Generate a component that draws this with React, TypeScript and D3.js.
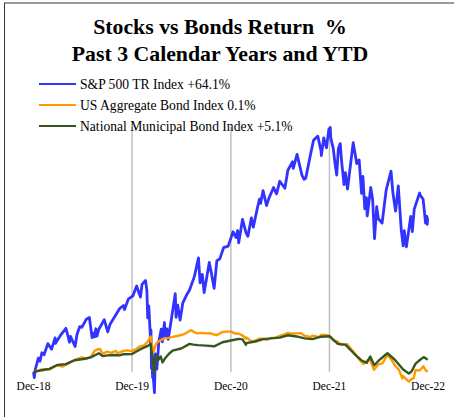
import React from "react";
import * as d3 from "d3";

const titleLines = ["Stocks vs Bonds Return  %", "Past 3 Calendar Years and YTD"];
const seriesNames = ["S&P 500 TR Index +64.1%", "US Aggregate Bond Index 0.1%", "National Municipal Bond Index +5.1%"];
const seriesColors = ["#3333ff", "#ff9900", "#375623"];
const tickDates = ["2018-12-31", "2019-12-31", "2020-12-31", "2021-12-31", "2022-12-31"];
const gridDates = ["2019-12-31", "2020-12-31", "2021-12-31"];

const spx: [string, number][] = [
  ["2018-12-31", 0], ["2019-01-03", -2.3], ["2019-01-07", 1.2], ["2019-01-18", 5.8], ["2019-01-24", 4.5],
  ["2019-01-31", 8.0], ["2019-02-08", 7.2], ["2019-02-22", 11.8], ["2019-03-08", 9.5], ["2019-03-21", 14.2],
  ["2019-03-22", 11.9], ["2019-04-12", 15.6], ["2019-04-30", 18.2], ["2019-05-07", 15.3], ["2019-05-13", 12.4],
  ["2019-05-17", 14.8], ["2019-06-03", 10.6], ["2019-06-10", 15.6], ["2019-06-20", 18.9], ["2019-06-28", 18.6],
  ["2019-07-15", 22.0], ["2019-07-26", 22.7], ["2019-08-05", 14.3], ["2019-08-09", 16.2], ["2019-08-14", 14.6],
  ["2019-08-19", 18.0], ["2019-08-23", 14.9], ["2019-08-30", 17.8], ["2019-09-19", 21.8], ["2019-10-02", 16.7],
  ["2019-10-11", 20.0], ["2019-10-31", 23.6], ["2019-11-15", 26.4], ["2019-11-29", 27.7], ["2019-12-03", 26.0],
  ["2019-12-17", 30.3], ["2019-12-31", 31.5], ["2020-01-03", 31.6], ["2020-01-17", 35.8], ["2020-01-27", 32.5],
  ["2020-01-31", 31.2], ["2020-02-06", 36.5], ["2020-02-19", 38.1], ["2020-02-24", 33.8], ["2020-02-27", 22.5],
  ["2020-03-02", 27.5], ["2020-03-09", 12.0], ["2020-03-10", 17.5], ["2020-03-12", 1.5], ["2020-03-13", 11.0],
  ["2020-03-16", -2.3], ["2020-03-17", 3.8], ["2020-03-18", -1.5], ["2020-03-20", -4.2], ["2020-03-23", -8.6],
  ["2020-03-26", 7.5], ["2020-03-27", 4.0], ["2020-04-01", 1.2], ["2020-04-08", 12.5], ["2020-04-17", 17.8],
  ["2020-04-21", 12.6], ["2020-04-29", 20.6], ["2020-05-01", 14.4], ["2020-05-08", 18.0], ["2020-05-13", 13.6],
  ["2020-05-26", 23.0], ["2020-06-08", 32.6], ["2020-06-11", 22.8], ["2020-06-17", 27.8], ["2020-06-26", 21.6],
  ["2020-07-06", 28.8], ["2020-07-22", 32.5], ["2020-07-31", 34.1], ["2020-08-18", 39.8], ["2020-09-02", 47.5],
  ["2020-09-08", 37.1], ["2020-09-16", 40.6], ["2020-09-23", 33.1], ["2020-10-12", 45.6], ["2020-10-19", 41.6],
  ["2020-10-30", 34.8], ["2020-11-09", 46.3], ["2020-11-20", 47.1], ["2020-12-04", 51.8], ["2020-12-21", 52.4],
  ["2020-12-31", 55.7], ["2021-01-08", 58.4], ["2021-01-19", 56.0], ["2021-01-25", 58.9], ["2021-01-29", 53.8],
  ["2021-02-12", 63.5], ["2021-02-25", 58.0], ["2021-03-04", 56.5], ["2021-03-17", 64.2], ["2021-03-24", 60.3],
  ["2021-04-09", 68.7], ["2021-04-16", 72.0], ["2021-04-20", 70.2], ["2021-04-29", 75.5], ["2021-05-12", 69.3],
  ["2021-05-21", 72.4], ["2021-06-07", 76.8], ["2021-06-18", 74.2], ["2021-06-30", 79.4], ["2021-07-19", 76.5],
  ["2021-07-30", 84.0], ["2021-08-16", 87.5], ["2021-08-19", 84.8], ["2021-09-02", 90.6], ["2021-09-20", 82.0],
  ["2021-09-28", 80.2], ["2021-10-04", 80.6], ["2021-10-21", 90.0], ["2021-11-02", 96.5], ["2021-11-18", 98.2],
  ["2021-11-30", 91.9], ["2021-12-01", 90.1], ["2021-12-10", 97.5], ["2021-12-20", 93.3], ["2021-12-29", 101.2],
  ["2021-12-31", 100.4], ["2022-01-03", 101.8], ["2022-01-05", 97.4], ["2022-01-14", 93.2], ["2022-01-21", 86.5],
  ["2022-01-27", 82.0], ["2022-02-02", 93.0], ["2022-02-09", 95.1], ["2022-02-14", 87.8], ["2022-02-23", 78.0],
  ["2022-02-28", 83.0], ["2022-03-08", 76.2], ["2022-03-29", 95.5], ["2022-04-11", 86.8], ["2022-04-20", 88.3],
  ["2022-04-29", 74.4], ["2022-05-04", 81.4], ["2022-05-11", 67.9], ["2022-05-17", 72.6], ["2022-05-20", 65.0],
  ["2022-06-02", 76.8], ["2022-06-09", 71.7], ["2022-06-16", 55.5], ["2022-06-24", 68.8], ["2022-06-30", 63.8],
  ["2022-07-14", 62.0], ["2022-07-29", 75.7], ["2022-08-16", 83.6], ["2022-08-23", 74.6], ["2022-09-02", 67.0],
  ["2022-09-12", 77.5], ["2022-09-23", 59.1], ["2022-09-30", 52.5], ["2022-10-04", 58.8], ["2022-10-12", 52.1],
  ["2022-10-28", 64.8], ["2022-11-03", 58.5], ["2022-11-10", 67.8], ["2022-11-30", 74.5], ["2022-12-02", 73.7],
  ["2022-12-13", 71.9], ["2022-12-22", 62.0], ["2022-12-27", 64.8], ["2022-12-28", 61.5], ["2022-12-30", 64.1],
];

const agg: [string, number][] = [
  ["2018-12-31", 0], ["2019-01-15", 0.5], ["2019-01-31", 1.06], ["2019-02-15", 1.2], ["2019-02-28", 1.0],
  ["2019-03-08", 1.6], ["2019-03-29", 2.9], ["2019-04-17", 2.2], ["2019-04-30", 3.0], ["2019-05-15", 3.9],
  ["2019-05-31", 4.8], ["2019-06-20", 5.8], ["2019-06-28", 6.1], ["2019-07-12", 5.4], ["2019-07-31", 6.3],
  ["2019-08-15", 8.9], ["2019-08-28", 9.5], ["2019-09-03", 9.6], ["2019-09-13", 7.6], ["2019-09-30", 8.5],
  ["2019-10-15", 8.0], ["2019-10-31", 8.8], ["2019-11-08", 7.9], ["2019-11-29", 8.8], ["2019-12-13", 9.0],
  ["2019-12-31", 8.7], ["2020-01-15", 9.6], ["2020-01-31", 10.8], ["2020-02-14", 11.1], ["2020-02-28", 12.8],
  ["2020-03-06", 14.4], ["2020-03-09", 14.8], ["2020-03-13", 11.5], ["2020-03-19", 8.3], ["2020-03-25", 10.5],
  ["2020-03-31", 12.1], ["2020-04-15", 13.3], ["2020-04-30", 14.1], ["2020-05-15", 14.2], ["2020-05-29", 14.6],
  ["2020-06-15", 15.0], ["2020-06-30", 15.4], ["2020-07-15", 16.0], ["2020-07-31", 17.1], ["2020-08-06", 17.4],
  ["2020-08-20", 16.4], ["2020-08-31", 16.1], ["2020-09-15", 16.3], ["2020-09-30", 16.1], ["2020-10-15", 16.2],
  ["2020-10-30", 15.6], ["2020-11-10", 15.4], ["2020-11-30", 16.7], ["2020-12-31", 16.9], ["2021-01-15", 16.0],
  ["2021-01-29", 16.0], ["2021-02-12", 15.2], ["2021-02-25", 13.9], ["2021-02-26", 14.4], ["2021-03-18", 12.7],
  ["2021-03-31", 13.0], ["2021-04-15", 13.9], ["2021-04-30", 13.9], ["2021-05-12", 13.4], ["2021-05-31", 14.2],
  ["2021-06-15", 14.3], ["2021-06-30", 15.0], ["2021-07-15", 15.6], ["2021-07-30", 16.3], ["2021-08-13", 16.0],
  ["2021-08-31", 16.1], ["2021-09-15", 16.2], ["2021-09-30", 15.1], ["2021-10-22", 14.6], ["2021-10-29", 15.1],
  ["2021-11-24", 14.5], ["2021-11-30", 15.4], ["2021-12-15", 15.4], ["2021-12-31", 15.1], ["2022-01-14", 13.2],
  ["2022-01-31", 12.6], ["2022-02-11", 11.3], ["2022-02-28", 11.4], ["2022-03-07", 11.6], ["2022-03-21", 9.6],
  ["2022-03-31", 8.3], ["2022-04-15", 6.0], ["2022-04-29", 4.2], ["2022-05-06", 3.4], ["2022-05-26", 5.3],
  ["2022-05-31", 4.9], ["2022-06-14", 0.9], ["2022-06-30", 3.2], ["2022-07-15", 3.6], ["2022-08-02", 7.0],
  ["2022-08-15", 5.6], ["2022-08-31", 2.7], ["2022-09-15", 0.8], ["2022-09-27", -2.7], ["2022-09-30", -1.7],
  ["2022-10-21", -4.0], ["2022-10-31", -3.0], ["2022-11-08", -2.6], ["2022-11-15", 0.8], ["2022-11-30", 0.6],
  ["2022-12-14", 2.4], ["2022-12-23", 0.6], ["2022-12-30", 0.1],
];

const muni: [string, number][] = [
  ["2018-12-31", 0], ["2019-01-31", 0.75], ["2019-02-28", 1.3], ["2019-03-29", 2.9], ["2019-04-30", 3.3],
  ["2019-05-31", 4.9], ["2019-06-28", 5.3], ["2019-07-31", 6.1], ["2019-08-30", 7.8], ["2019-09-13", 6.6],
  ["2019-09-30", 6.9], ["2019-10-31", 7.1], ["2019-11-15", 6.9], ["2019-11-29", 7.4], ["2019-12-31", 7.5],
  ["2020-01-31", 9.5], ["2020-02-28", 10.9], ["2020-03-09", 11.8], ["2020-03-12", 8.5], ["2020-03-16", 6.5],
  ["2020-03-20", 1.5], ["2020-03-23", -0.5], ["2020-03-26", 3.5], ["2020-03-31", 6.9], ["2020-04-07", 5.0],
  ["2020-04-15", 6.5], ["2020-04-22", 4.0], ["2020-04-30", 5.5], ["2020-05-15", 7.5], ["2020-05-29", 8.9],
  ["2020-06-30", 9.8], ["2020-07-31", 11.7], ["2020-08-14", 11.4], ["2020-08-31", 11.2], ["2020-09-30", 11.0],
  ["2020-10-30", 10.7], ["2020-11-30", 12.4], ["2020-12-31", 13.1], ["2021-01-29", 13.8], ["2021-02-12", 13.6],
  ["2021-02-25", 11.3], ["2021-02-26", 12.0], ["2021-03-31", 12.7], ["2021-04-30", 13.7], ["2021-05-28", 14.0],
  ["2021-06-30", 14.3], ["2021-07-30", 15.3], ["2021-08-31", 14.8], ["2021-09-30", 14.0], ["2021-10-29", 13.7],
  ["2021-11-30", 14.7], ["2021-12-31", 14.9], ["2022-01-31", 11.7], ["2022-02-28", 11.4], ["2022-03-31", 7.8],
  ["2022-04-29", 4.8], ["2022-05-18", 3.8], ["2022-05-31", 6.4], ["2022-06-15", 2.8], ["2022-06-30", 4.6],
  ["2022-07-29", 7.4], ["2022-08-03", 7.8], ["2022-08-31", 5.0], ["2022-09-30", 1.0], ["2022-10-21", -0.6],
  ["2022-10-31", 0.2], ["2022-11-15", 3.5], ["2022-11-30", 4.9], ["2022-12-15", 6.2], ["2022-12-30", 5.1],
];

const parse = d3.utcParse("%Y-%m-%d");
const fmt = d3.utcFormat("%b-%y");

export default function App() {
  const W = 454;
  const H = 417;
  const x = d3.scaleUtc().domain([parse("2018-12-31")!, parse("2022-12-31")!]).range([33.5, 428]);
  const y = d3.scaleLinear().domain([0, 102]).range([372, 127]);
  const line = d3
    .line<[string, number]>()
    .x((d) => x(parse(d[0])!))
    .y((d) => y(d[1]));
  const series = [spx, agg, muni];
  const widths = [2.8, 2.4, 2.4];
  const font = "'Liberation Serif', 'Times New Roman', serif";
  return (
    <svg
      width={W}
      height={H}
      style={{ position: "absolute", left: 0, top: 0, background: "#fff", fontFamily: font }}
    >
      <rect x={4.5} y={3} width={500} height={500} fill="#fff" stroke="#2f3a2f" strokeWidth={1} />
      {titleLines.map((t, i) => (
        <text
          key={t}
          x={220}
          y={34 + i * 27}
          textAnchor="middle"
          fontWeight="bold"
          fontSize={21.8}
          style={{ whiteSpace: "pre" }}
        >
          {t}
        </text>
      ))}
      {gridDates.map((d) => (
        <line
          key={d}
          x1={x(parse(d)!)}
          x2={x(parse(d)!)}
          y1={y(102)}
          y2={y(0)}
          stroke="#c0c0c0"
          strokeWidth={1.5}
        />
      ))}
      {seriesNames.map((n, i) => (
        <g key={n}>
          <line x1={39} x2={76} y1={84 + i * 21} y2={84 + i * 21} stroke={seriesColors[i]} strokeWidth={2.2} />
          <text x={80} y={88.5 + i * 21} fontSize={13.6}>
            {n}
          </text>
        </g>
      ))}
      {series.map((s, i) => (
        <path
          key={i}
          d={line(s) || ""}
          fill="none"
          stroke={seriesColors[i]}
          strokeWidth={widths[i]}
          strokeLinejoin="round"
        />
      ))}
      {tickDates.map((d) => (
        <text key={d} x={x(parse(d)!)} y={389.5} textAnchor="middle" fontSize={11.5}>
          {fmt(parse(d)!)}
        </text>
      ))}
    </svg>
  );
}
